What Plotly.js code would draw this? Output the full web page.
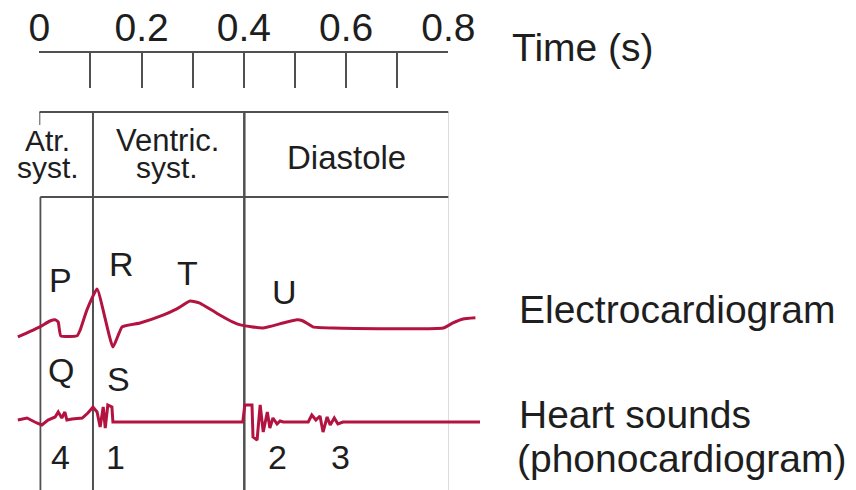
<!DOCTYPE html>
<html>
<head>
<meta charset="utf-8">
<script src="https://cdn.plot.ly/plotly-3.0.1.min.js"></script>
<style>html,body{margin:0;padding:0;background:#fff;}#chart{width:856px;height:490px;}</style>
</head>
<body>
<div id="chart"></div>
<script>
// ---- data (time in s, amplitudes in arbitrary units) ----
const ecgTime  = [-0.042, 0.001, 0.021, 0.031, 0.037, 0.042, 0.074, 0.080, 0.093, 0.113, 0.144, 0.162, 0.197, 0.242, 0.269, 0.295, 0.314, 0.347, 0.379, 0.393, 0.437, 0.477, 0.504, 0.516, 0.535, 0.575, 0.790, 0.809, 0.829, 0.853];
const ecgValue = [-0.23, 0.03, 0.18, 0.21, 0.15, -0.20, -0.20, -0.05, 0.46, 1.00, -0.49, 0.03, 0.13, 0.33, 0.49, 0.69, 0.64, 0.38, 0.15, 0.08, 0.00, 0.13, 0.21, 0.18, 0.03, 0.00, 0.00, 0.13, 0.23, 0.26];

const phonoTime  = [-0.042, -0.024, -0.005, 0.005, 0.017, 0.031, 0.037, 0.044, 0.050, 0.054, 0.064, 0.084, 0.095, 0.105, 0.113, 0.119, 0.125, 0.129, 0.134, 0.142, 0.144, 0.398, 0.402, 0.416, 0.418, 0.426, 0.432, 0.438, 0.446, 0.451, 0.457, 0.465, 0.471, 0.477, 0.526, 0.533, 0.541, 0.549, 0.555, 0.563, 0.569, 0.577, 0.584, 0.594, 0.862];
const phonoValue = [0.2, 0.4, -0.1, -0.3, 0.2, 0.5, 1.0, 0.4, 1.0, 0.2, 0.3, 0.4, 0.9, 1.5, 1.0, -0.5, 1.5, -0.6, 1.7, 1.5, 0.0, 0.0, 1.7, 1.7, -1.5, -1.8, 1.7, -1.0, 1.0, -0.6, 0.4, -0.2, 0.1, 0.0, 0.0, 0.7, 0.2, 0.6, -1.0, 0.5, -0.3, 0.4, -0.2, 0.0, 0.0];

const tickVals = [0, 0.1, 0.2, 0.3, 0.4, 0.5, 0.6, 0.7, 0.8];
const tickText = ['0', '', '0.2', '', '0.4', '', '0.6', '', '0.8'];

const phaseBounds = [0.002, 0.105, 0.401, 0.802];   // start, atrial end, ventricular end, end

const waveLabels = ['P', 'R', 'T', 'U', 'Q', 'S'];
const waveLabelTime = [0.042, 0.160, 0.289, 0.480, 0.042, 0.154];
const soundLabels = ['4', '1', '2', '3'];
const soundLabelTime = [0.042, 0.150, 0.465, 0.590];

// ---- layout helpers ----
const W = 856, H = 490;
const px2t = px => (px - 39.3) / 511.25;
const py = p => 1 - p / H;
const LINE = '#505050';
const TXT = '#1e1e1e';
const RED = '#b31340';
const FONT = 'Liberation Sans, Arial, Helvetica, sans-serif';

const traces = [
  {x: ecgTime, y: ecgValue, xaxis: 'x', yaxis: 'y', mode: 'lines',
   line: {color: RED, width: 3, shape: 'spline', smoothing: 0.4}, hoverinfo: 'skip', showlegend: false},
  {x: phonoTime, y: phonoValue, xaxis: 'x', yaxis: 'y2', mode: 'lines',
   line: {color: RED, width: 3}, hoverinfo: 'skip', showlegend: false},
  {x: [0, 0.8], y: [null, null], xaxis: 'x2', yaxis: 'y', mode: 'lines', hoverinfo: 'skip', showlegend: false},
  {x: [0, 0.8], y: [null, null], xaxis: 'x3', yaxis: 'y', mode: 'lines', hoverinfo: 'skip', showlegend: false}
];

const vline = (t, y0, y1, w) => ({type: 'line', xref: 'x2', yref: 'paper', x0: t, x1: t, y0: py(y0), y1: py(y1),
  line: {color: LINE, width: w || 2}, layer: 'below'});
const hline = (y, t0, t1) => ({type: 'line', xref: 'x2', yref: 'paper', x0: t0, x1: t1, y0: py(y), y1: py(y),
  line: {color: LINE, width: 2}, layer: 'below'});

const shapes = [
  hline(112, 0.0, phaseBounds[3]),
  vline(0.0, 112, 125),
  hline(197, phaseBounds[0], phaseBounds[3]),
  vline(phaseBounds[0], 197, 490),
  vline(phaseBounds[1], 112, 490),
  vline(phaseBounds[2], 112, 490, 2.5),
  vline(phaseBounds[3], 112, 490)
];

const ann = (text, t, y, size, xanchor) => ({text, xref: 'x2', yref: 'paper', x: t, y: py(y),
  xanchor: xanchor || 'center', yanchor: 'middle', showarrow: false, borderpad: 0,
  font: {family: FONT, size, color: TXT}});
const annP = (text, x, y, size) => ({text, xref: 'paper', yref: 'paper', x: x / W, y: py(y),
  xanchor: 'left', yanchor: 'middle', showarrow: false, font: {family: FONT, size, color: TXT}});

const annotations = [
  ann('Atr.', px2t(47), 140, 30),
  ann('syst.', px2t(48), 167, 30),
  ann('Ventric.', px2t(167), 140, 31),
  ann('syst.', px2t(167), 167, 30),
  ann('Diastole', px2t(346), 157, 33),
  annP('Time (s)', 510, 48, 39),
  annP('Electrocardiogram', 517, 309, 39),
  annP('Heart sounds', 517, 414, 39),
  annP('(phonocardiogram)', 515, 458, 39)
];
const waveY = [280, 264, 273, 292, 370, 379];
waveLabels.forEach((l, i) => annotations.push(ann(l, waveLabelTime[i], waveY[i], 34)));
soundLabels.forEach((l, i) => annotations.push(ann(l, soundLabelTime[i], 457, 34)));

const timeDomain = [39.3 / W, 448.3 / W];
const layout = {
  width: W, height: H,
  margin: {l: 0, r: 0, t: 0, b: 0, pad: 0},
  paper_bgcolor: '#ffffff', plot_bgcolor: 'rgba(0,0,0,0)',
  font: {family: FONT, color: TXT},
  showlegend: false,
  xaxis: {domain: [0, 1], range: [px2t(0), px2t(W)], visible: false, fixedrange: true},
  yaxis: {domain: [0, 1], range: [(328 - H) / 39, 328 / 39], visible: false, fixedrange: true},
  yaxis2: {overlaying: 'y', range: [(422 - H) / 10, 422 / 10], visible: false, fixedrange: true},
  // time scale: line + tick marks
  xaxis2: {
    domain: timeDomain, range: [0, 0.8], anchor: 'free', position: py(52), side: 'top',
    showline: true, linecolor: LINE, linewidth: 2, mirror: false,
    ticks: 'inside', ticklen: 35, tickwidth: 2, tickcolor: LINE,
    tickmode: 'array', tickvals: tickVals, showticklabels: false,
    showgrid: false, zeroline: false, fixedrange: true
  },
  // time scale: tick labels
  xaxis3: {
    domain: timeDomain, range: [0, 0.8], anchor: 'free', position: py(49), side: 'top',
    showline: false, ticks: '',
    tickmode: 'array', tickvals: tickVals, ticktext: tickText,
    tickfont: {family: FONT, size: 39, color: TXT},
    showgrid: false, zeroline: false, fixedrange: true
  },
  shapes, annotations
};

Plotly.newPlot('chart', traces, layout, {staticPlot: true, displayModeBar: false});
</script>
</body>
</html>
